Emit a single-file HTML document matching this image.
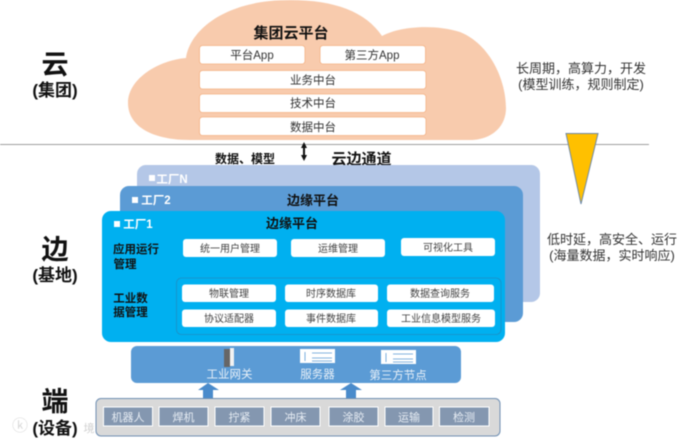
<!DOCTYPE html>
<html lang="zh"><head><meta charset="utf-8"><style>
html,body{margin:0;padding:0;background:#fff;width:692px;height:441px;overflow:hidden}
svg{display:block;filter:blur(.4px)}
text{font-family:"Liberation Sans","Noto Sans CJK SC",sans-serif;text-anchor:middle;fill:#333}
.b{font-weight:700;fill:#111}
.s{font-size:10px;fill:#444}
.w{fill:#fff;font-weight:700}
.l{font-size:11.5px;fill:#333}
.g{font-size:11.500px;fill:#e8f0f8}
.d{font-size:11px;fill:#e6ecf3}
</style></head><body>
<svg width="692" height="441" viewBox="0 0 692 441" xmlns="http://www.w3.org/2000/svg">
<!-- cloud -->
<path d="M190 140 C150 140 128 125 128 103 C128 78 160 60 186 58 C190 30 225 0 290 0 C335 0 366 12 382 36 C400 26 435 24 460 32 C490 44 506 80 506 108 C506 128 490 140 470 140 Z" fill="#f8cbad"/>
<line x1="0" y1="144.500" x2="649" y2="144.500" stroke="#a0a0a0" stroke-width="1"/>
<text x="291" y="38" class="b" font-size="15">集团云平台</text>
<g fill="#fff" stroke="#f4b183" stroke-width=".8">
<rect x="199.500" y="45.500" width="105.500" height="18.500" rx="3"/>
<rect x="320" y="45.500" width="105.500" height="18.500" rx="3"/>
<rect x="199.500" y="70.500" width="226.500" height="18.500" rx="3"/>
<rect x="199.500" y="94" width="226.500" height="18.500" rx="3"/>
<rect x="199.500" y="117" width="226.500" height="18.500" rx="3"/>
</g>
<text x="252" y="59" class="l">平台App</text>
<text x="372" y="59" class="l">第三方App</text>
<text x="313" y="84" class="l">业务中台</text>
<text x="313" y="107" class="l">技术中台</text>
<text x="313" y="131" class="l">数据中台</text>
<!-- channel -->
<text x="245" y="163" class="b" font-size="12">数据、模型</text>
<text x="361.500" y="164" class="b" font-size="15">云边通道</text>
<path d="M304 142 L307 148 L305 148 L305 155 L307 155 L304 161 L301 155 L303 155 L303 148 L301 148 Z" fill="#111"/>
<!-- side labels -->
<text x="55" y="74" class="b" font-size="27">云</text>
<text x="55" y="96" class="b" font-size="17">(集团)</text>
<text x="55" y="259" class="b" font-size="27">边</text>
<text x="55" y="281" class="b" font-size="17">(基地)</text>
<text x="55" y="411" class="b" font-size="27">端</text>
<text x="55" y="434" class="b" font-size="17">(设备)</text>
<text x="20" y="431" font-size="16" style="fill:#d8d8d8">ⓚ</text>
<text x="89" y="432" font-size="11" style="fill:#d0d0d0">境</text>
<text x="581" y="73" font-size="13">长周期，高算力，开发</text>
<text x="581" y="89" font-size="13">(模型训练，规则制定)</text>
<text x="612" y="244" font-size="13">低时延，高安全、运行</text>
<text x="612" y="260" font-size="13">(海量数据，实时响应)</text>
<path d="M566 133.500 H598 L581 204 Z" fill="#ffc000" stroke="#6f8aa8" stroke-width="1"/>
<!-- layers -->
<rect x="137" y="165" width="403" height="137" rx="9" fill="#b4c7e7"/>
<rect x="120" y="186" width="403" height="136" rx="9" fill="#5b9bd5"/>
<rect x="102" y="211" width="403" height="131" rx="9" fill="#00b0f0"/>
<rect x="149" y="175" width="6" height="6" fill="#fff"/>
<text x="172" y="183" class="w" font-size="11.500">工厂N</text>
<rect x="132" y="197" width="6" height="6" fill="#fff"/>
<text x="156" y="204" class="w" font-size="11.500">工厂2</text>
<rect x="114" y="221" width="6" height="6" fill="#fff"/>
<text x="138" y="228" class="w" font-size="11.500">工厂1</text>
<text x="313" y="205" class="b" font-size="13">边缘平台</text>
<text x="292" y="228" class="b" font-size="13">边缘平台</text>
<text x="136" y="253" class="b" font-size="11.500">应用运行</text>
<text x="125" y="268" class="b" font-size="11.500">管理</text>
<text x="130.500" y="302" class="b" font-size="11.500">工业数</text>
<text x="130.500" y="316" class="b" font-size="11.500">据管理</text>
<rect x="176.500" y="278" width="324.500" height="56.500" rx="5" fill="none" stroke="#1d8fc4" stroke-width=".8"/>
<g fill="#fff">
<rect x="183" y="239" width="94" height="18" rx="3"/>
<rect x="291" y="239" width="94" height="18" rx="3"/>
<rect x="401" y="238" width="94" height="18" rx="3"/>
<rect x="182" y="284.500" width="94" height="17.500" rx="3"/>
<rect x="285" y="284.500" width="93" height="17.500" rx="3"/>
<rect x="387" y="284.500" width="107" height="17.500" rx="3"/>
<rect x="182" y="309.500" width="94" height="17.500" rx="3"/>
<rect x="285" y="309.500" width="93" height="17.500" rx="3"/>
<rect x="387" y="309.500" width="108" height="17.500" rx="3"/>
</g>
<text x="230" y="252" class="s">统一用户管理</text>
<text x="338" y="252" class="s">运维管理</text>
<text x="448" y="251" class="s">可视化工具</text>
<text x="229" y="297" class="s">物联管理</text>
<text x="331" y="297" class="s">时序数据库</text>
<text x="440" y="297" class="s">数据查询服务</text>
<text x="229" y="322" class="s">协议适配器</text>
<text x="331" y="322" class="s">事件数据库</text>
<text x="441" y="322" class="s">工业信息模型服务</text>
<!-- gateway bar -->
<rect x="131" y="346" width="330" height="37" rx="6" fill="#5b9bd5"/>
<rect x="224" y="349" width="6" height="18" fill="#666"/>
<rect x="230" y="348" width="4" height="18" fill="#f2f2f2"/>
<g fill="#fff">
<rect x="300" y="349" width="35" height="14"/>
<rect x="381" y="350" width="35" height="14"/>
</g>
<g stroke="#5b9bd5" stroke-width=".8">
<path d="M305 352V361M312 353H332M312 358H332M312 361H332"/>
<path d="M386 353V362M393 354H413M393 359H413M393 362H413"/>
</g>
<text x="229.500" y="378" class="g">工业网关</text>
<text x="317.500" y="378" class="g">服务器</text>
<text x="398" y="379" class="g">第三方节点</text>
<path d="M198 390 L208 383 L219 390 L213 390 L213 398 L203 398 L203 390 Z" fill="#4a8bcb"/>
<path d="M340 390 L351 383 L362 390 L356 390 L356 398 L346 398 L346 390 Z" fill="#4a8bcb"/>
<!-- devices -->
<rect x="96" y="398.500" width="404" height="37.500" rx="5" fill="#d9d9d9" stroke="#6f8fb3" stroke-width="1"/>
<g fill="#8497b0" stroke="#fff" stroke-width="1">
<rect x="103.500" y="407" width="49" height="19"/>
<rect x="159" y="407" width="49" height="19"/>
<rect x="215" y="407" width="49" height="19"/>
<rect x="271" y="407" width="49" height="19"/>
<rect x="329" y="407" width="49" height="19"/>
<rect x="385" y="407" width="48" height="19"/>
<rect x="439.500" y="407" width="49.500" height="19"/>
</g>
<text x="128" y="421" class="d">机器人</text>
<text x="183.500" y="421" class="d">焊机</text>
<text x="239.500" y="421" class="d">拧紧</text>
<text x="295.500" y="421" class="d">冲床</text>
<text x="353.500" y="421" class="d">涂胶</text>
<text x="409" y="421" class="d">运输</text>
<text x="464" y="421" class="d">检测</text>
</svg>
</body></html>
